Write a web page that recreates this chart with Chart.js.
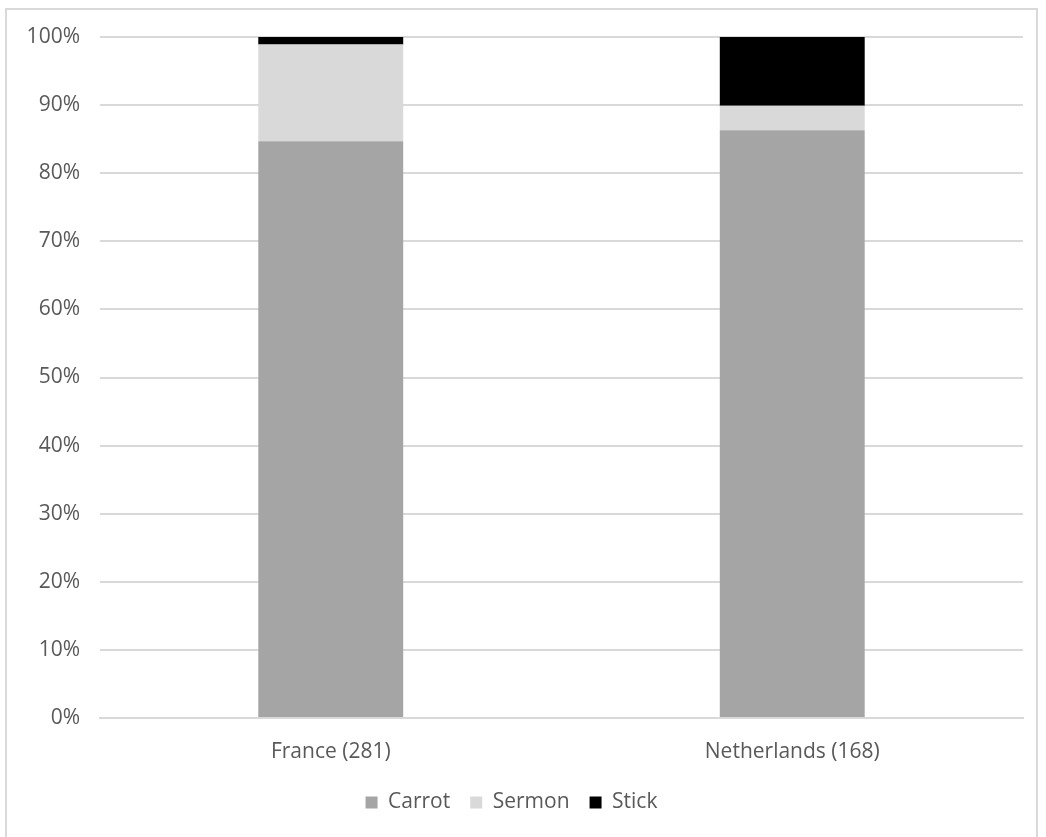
<!DOCTYPE html>
<html>
<head>
<meta charset="utf-8">
<script src="https://cdn.jsdelivr.net/npm/chart.js@4.4.1/dist/chart.umd.min.js"></script>
<style>
  html, body { margin: 0; padding: 0; background: #fff; }
  #frame {
    position: absolute; left: 5px; top: 8px;
    width: 1033px; height: 850px;
    border: 2px solid #d9d9d9; box-sizing: border-box;
  }
  #wrap { position: absolute; left: 0; top: 0; width: 1046px; height: 837px; }
</style>
</head>
<body>
<div id="frame"></div>
<div id="wrap"><canvas id="myChart"></canvas></div>
<script>
// categories and shares (percent of respondents)
const countries = ['France (281)', 'Netherlands (168)'];
const carrot = [84.7, 86.3];
const sermon = [14.2, 3.6];
const stick = [1.1, 10.1];
const yTicks = [0, 10, 20, 30, 40, 50, 60, 70, 80, 90, 100];

const ctx = document.getElementById('myChart').getContext('2d');
const labelFont = { family: 'Open Sans', size: 21 };

const myChart = new Chart(ctx, {
  type: 'bar',
  data: {
    labels: countries,
    datasets: [
      { label: 'Carrot', data: carrot, backgroundColor: '#a5a5a5' },
      { label: 'Sermon', data: sermon, backgroundColor: '#d9d9d9' },
      { label: 'Stick', data: stick, backgroundColor: '#000000' }
    ]
  },
  options: {
    responsive: true,
    maintainAspectRatio: false,
    animation: false,
    datasets: {
      bar: { barPercentage: 1, categoryPercentage: 0.314 }
    },
    layout: { padding: { top: 37, right: 23, left: 0, bottom: 14 } },
    scales: {
      x: {
        stacked: true,
        grid: { display: false },
        border: { color: '#d9d9d9', width: 2 },
        afterFit: (axis) => { axis.height = 54; },
        ticks: { color: '#595959', font: labelFont, padding: 13 }
      },
      y: {
        stacked: true,
        min: 0,
        max: 100,
        afterBuildTicks: (axis) => { axis.ticks = yTicks.map(v => ({ value: v })); },
        afterFit: (axis) => { axis.width = 100; },
        grid: { color: '#d9d9d9', lineWidth: 2, drawTicks: false },
        border: { display: false },
        ticks: {
          color: '#595959',
          font: labelFont,
          padding: 20,
          callback: (v) => v + '%'
        }
      }
    },
    plugins: {
      legend: {
        position: 'bottom',
        labels: {
          color: '#595959',
          font: labelFont,
          boxWidth: 12,
          boxHeight: 12,
          padding: 20
        }
      },
      tooltip: { enabled: false }
    }
  }
});
</script>
</body>
</html>
